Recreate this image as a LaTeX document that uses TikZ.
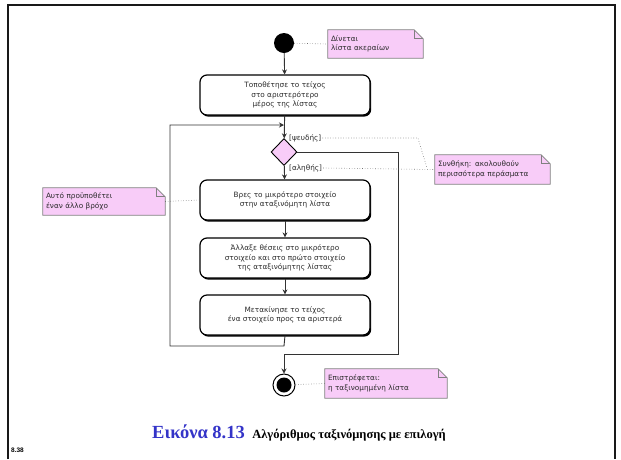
\documentclass[tikz,border=0pt]{standalone}
\usepackage{fontspec}
\setmainfont{DejaVu Sans}
\newfontfamily\capfont{Liberation Serif}
\newfontfamily\pagefont{Liberation Sans}
\usetikzlibrary{arrows.meta,shapes.geometric,shadows,backgrounds,calc}

\definecolor{notepink}{HTML}{F8CCF8}
\definecolor{noteedge}{HTML}{808080}
\definecolor{txt}{HTML}{2C2C2C}
\definecolor{capblue}{HTML}{3434C8}

\tikzset{
  flow/.style={draw=black!80, line width=0.9pt, -{Stealth[length=5pt,width=5pt]}},
  link/.style={draw=black!55, line width=0.6pt, dotted},
  activity/.style={draw=black, line width=1.2pt, rounded corners=7pt, fill=white,
    minimum width=170pt, minimum height=40pt, align=center, text=txt, inner sep=2pt,
    font=\fontsize{7.3}{9.6}\selectfont,
    drop shadow={shadow xshift=1.2pt, shadow yshift=-1.6pt, fill=black, opacity=1}},
  notetext/.style={align=left, text=txt, inner sep=3pt, anchor=center,
    font=\fontsize{7.3}{9.6}\selectfont, text width=#1},
  guard/.style={text=txt, inner sep=1pt, anchor=west, font=\fontsize{7.3}{9}\selectfont},
  startdot/.style={circle, fill=black, minimum size=20pt, inner sep=0pt},
  decision/.style={diamond, draw=black, line width=0.9pt, fill=notepink,
    minimum width=26pt, minimum height=27pt, inner sep=0pt},
}

% folded-corner note outline drawn behind a text node
\newcommand\foldnote[1]{%
  \filldraw[fill=notepink, draw=noteedge, line width=0.7pt]
    (#1.south west) -- (#1.north west) -- ($(#1.north east)+(-9pt,0pt)$)
    -- ($(#1.north east)+(0pt,-9pt)$) -- (#1.south east) -- cycle;
  \draw[noteedge, line width=0.7pt]
    ($(#1.north east)+(-9pt,0pt)$) -- ($(#1.north east)+(-9pt,-9pt)$)
    -- ($(#1.north east)+(0pt,-9pt)$);
}

\begin{document}
\begin{tikzpicture}[x=1pt, y=-1pt]
\useasboundingbox (0,0) rectangle (621,459);

% slide frame
\draw[line width=2.6pt, black!90] (8,459) -- (8,5) -- (615,5) -- (615,459);

% activity nodes
\node[startdot] (start) at (284,43) {};
\node[activity] (place) at (285,95) {Τοποθέτησε το τείχος\\στο αριστερότερο\\μέρος της λίστας};
\coordinate (merge) at (284,125);
\node[decision] (cond) at (284,152) {};
\node[activity] (find) at (285,200) {Βρες το μικρότερο στοιχείο\\στην αταξινόμητη λίστα};
\node[activity] (swap) at (285,258) {Άλλαξε θέσεις στο μικρότερο\\στοιχείο και στο πρώτο στοιχείο\\της αταξινόμητης λίστας};
\node[activity] (move) at (285,315) {Μετακίνησε το τείχος\\ένα στοιχείο προς τα αριστερά};

\node[circle, draw=black, line width=1pt, fill=white, minimum size=22pt, inner sep=0pt] (stop) at (284,385) {};
\node[circle, fill=black, minimum size=15pt, inner sep=0pt] (stopdot) at (stop) {};

% guards
\node[guard] (falseg) at (288,138) {[ψευδής]};
\node[guard] (trueg) at (288,168) {[αληθής]};

% notes
\node[notetext=89pt, minimum height=28pt] (ngiven) at (375.5,44) {Δίνεται\\λίστα ακεραίων};
\node[notetext=109pt, minimum height=29pt] (ncond) at (492.5,169.5) {Συνθήκη: ακολουθούν\\περισσότερα περάσματα};
\node[notetext=116pt, minimum height=27pt] (nloop) at (104,201.5) {Αυτό προϋποθέτει\\έναν άλλο βρόχο};
\node[notetext=116pt, minimum height=29pt] (nret) at (386,383.5) {Επιστρέφεται:\\η ταξινομημένη λίστα};

\begin{scope}[on background layer]
  \foldnote{ngiven}
  \foldnote{ncond}
  \foldnote{nloop}
  \foldnote{nret}
\end{scope}

% control flow
\coordinate (loopa) at (284,346);
\coordinate (loopb) at (170,346);
\coordinate (loopc) at (170,125);
\coordinate (exita) at (398,152);
\coordinate (exitb) at (398,354);
\coordinate (exitc) at (284,354);

\draw[flow] (start) -- (place);
\draw[flow] (place) -- (cond);
\draw[flow] (cond) -- (find);
\draw[flow] (find) -- (swap);
\draw[flow] (swap) -- (move);
\draw[flow] (move.south) -- (loopa) -- (loopb) -- (loopc) -- (merge);
\draw[flow] (cond.east) -- (exita) -- (exitb) -- (exitc) -- (stop);

% note links
\coordinate (bendf) at (418,138);
\coordinate (bendj) at (427,168);
\draw[link] (start) -- (ngiven.west);
\draw[link] (falseg.east) -- (bendf) -- (bendj);
\draw[link] (trueg.east) -- (ncond.west);
\draw[link] (nloop.east) -- (find.west);
\draw[link] (stop) -- (nret.west);

% caption
\node[anchor=base west, inner sep=0pt, text=capblue, font=\capfont\bfseries\fontsize{18.5}{20}\selectfont] (capnum) at (152,438) {Εικόνα 8.13};
\node[anchor=base west, inner sep=0pt, font=\capfont\bfseries\fontsize{12.5}{14}\selectfont] (captitle) at ($(capnum.base east)+(7pt,0pt)$) {Αλγόριθμος ταξινόμησης με επιλογή};
\node[anchor=base west, inner sep=0pt, font=\pagefont\bfseries\fontsize{6.5}{7}\selectfont] (pageno) at (11,452) {8.38};
\end{tikzpicture}
\end{document}
